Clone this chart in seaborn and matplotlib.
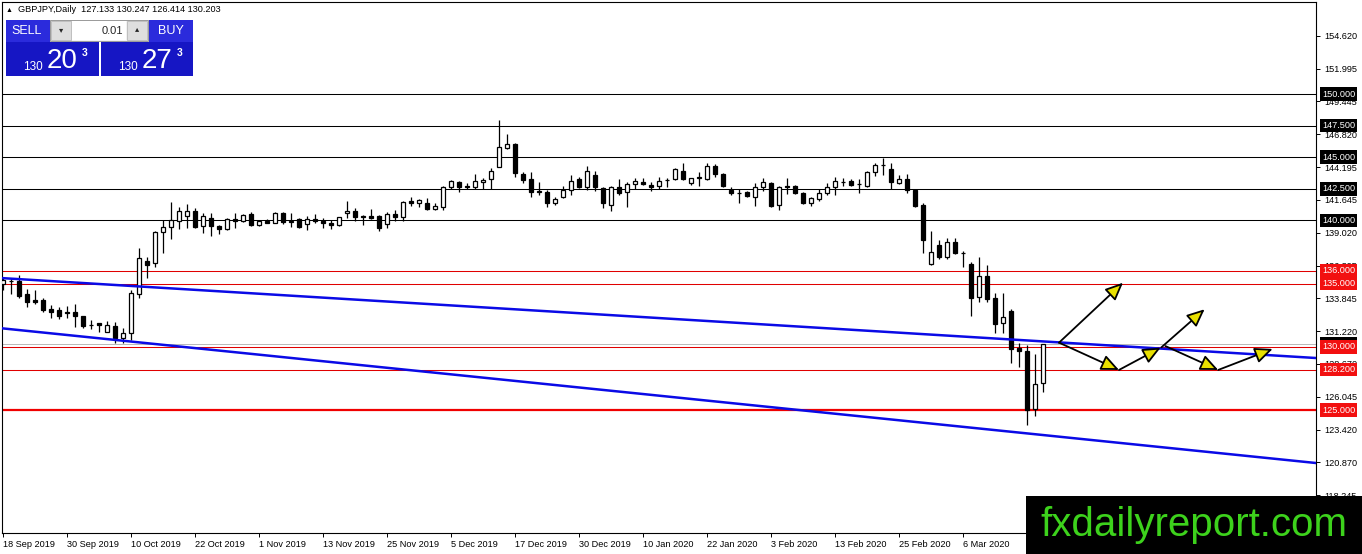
import matplotlib

matplotlib.use("Agg")

import matplotlib.pyplot as plt
import matplotlib.transforms as mtransforms
import numpy as np
import pandas as pd
import seaborn as sns
from matplotlib.patches import Rectangle

W, H = 1362, 554

SYMBOL_INFO = "GBPJPY,Daily  127.133 130.247 126.414 130.203"
LOT = "0.01"
SELL_PRICE = ("130", "20", "3")
BUY_PRICE = ("130", "27", "3")
WATERMARK = "fxdailyreport.com"

DATE_LABELS = [
    "18 Sep 2019", "30 Sep 2019", "10 Oct 2019", "22 Oct 2019", "1 Nov 2019",
    "13 Nov 2019", "25 Nov 2019", "5 Dec 2019", "17 Dec 2019", "30 Dec 2019",
    "10 Jan 2020", "22 Jan 2020", "3 Feb 2020", "13 Feb 2020", "25 Feb 2020",
    "6 Mar 2020",
]

# daily candles, bar 0 = 18 Sep 2019
OPENS = [
    134.95, 135.2, 135.2, 134.2, 133.7, 133.7, 133.0, 132.9, 132.75, 132.75,
    132.4, 131.75, 131.88, 131.17, 131.64, 130.7, 131.1, 134.18, 136.8, 136.6,
    139.08, 139.48, 139.95, 140.35, 140.75, 139.56, 140.19, 139.56, 139.32, 140.11,
    139.95, 140.5, 139.64, 139.95, 139.8, 140.58, 139.9, 140.11, 139.72, 140.11,
    139.95, 139.8, 139.64, 140.58, 140.75, 140.35, 140.35, 140.35, 139.72, 140.5,
    140.27, 141.53, 141.37, 141.37, 140.9, 141.06, 142.64, 143.04, 142.64, 142.64,
    143.04, 143.27, 144.22, 145.73, 146.04, 143.67, 143.27, 142.25, 142.25, 141.37,
    141.85, 142.41, 143.27, 142.64, 143.59, 142.56, 141.22, 142.64, 142.25, 142.88,
    143.04, 142.8, 142.72, 143.2, 143.27, 143.9, 142.96, 143.35, 143.27, 144.3,
    143.67, 142.41, 142.2, 142.25, 141.85, 142.64, 142.96, 141.22, 142.72, 142.72,
    142.17, 141.37, 141.69, 142.17, 142.64, 143.04, 143.12, 142.88, 142.72, 143.83,
    144.38, 144.07, 142.96, 143.27, 142.41, 141.22, 136.55, 138.05, 137.1, 138.29,
    137.42, 136.55, 133.94, 135.6, 133.86, 131.88, 132.83, 129.9, 129.67, 125.08,
    127.133,
]
HIGHS = [
    135.5, 135.45, 135.7, 134.57, 134.5, 133.86, 133.3, 133.15, 133.2, 133.39,
    132.45, 132.1, 131.9, 132.05, 131.96, 131.5, 134.49, 137.8, 137.1, 139.2,
    140.03, 141.45, 141.06, 141.3, 140.98, 140.6, 140.6, 139.6, 140.2, 140.58,
    140.5, 140.67, 140.03, 140.1, 140.67, 140.67, 140.58, 140.2, 140.35, 140.5,
    140.2, 140.03, 140.3, 141.53, 140.98, 140.4, 140.9, 140.43, 140.67, 140.8,
    141.53, 141.85, 141.7, 141.77, 141.37, 142.72, 143.2, 143.12, 142.96, 143.67,
    143.35, 144.15, 147.94, 146.84, 146.12, 143.83, 143.83, 143.04, 142.4, 141.85,
    142.72, 143.59, 143.43, 144.3, 143.9, 142.64, 142.72, 143.27, 143.04, 143.35,
    143.35, 143.04, 143.43, 143.35, 144.15, 144.54, 143.35, 143.83, 144.54, 144.46,
    143.75, 142.64, 142.48, 142.33, 142.96, 143.35, 143.04, 142.72, 143.35, 142.8,
    142.25, 141.85, 142.48, 142.96, 143.43, 143.35, 143.27, 143.27, 143.9, 144.54,
    144.94, 144.54, 143.59, 143.67, 142.48, 141.37, 139.16, 138.45, 138.6, 138.6,
    137.58, 136.7, 137.1, 136.47, 134.26, 134.26, 132.99, 130.3, 130.14, 129.43,
    130.247,
]
LOWS = [
    134.5, 134.2, 133.9, 133.15, 133.4, 132.75, 132.3, 132.2, 132.3, 131.57,
    131.5, 131.4, 131.2, 131.15, 130.3, 130.3, 130.54, 133.86, 135.45, 136.3,
    137.42, 138.53, 139.32, 139.4, 139.4, 139.0, 138.8, 138.9, 139.24, 139.4,
    139.87, 139.56, 139.56, 139.8, 139.8, 139.72, 139.48, 139.4, 139.24, 139.8,
    139.4, 139.32, 139.56, 140.2, 139.95, 139.64, 140.1, 139.16, 139.4, 139.95,
    139.95, 141.14, 141.06, 140.83, 140.83, 140.83, 142.48, 142.25, 142.48, 142.48,
    142.48, 142.48, 144.22, 145.65, 143.43, 142.96, 141.85, 142.0, 141.06, 141.22,
    141.77, 142.01, 142.56, 142.4, 142.33, 140.98, 140.75, 142.0, 141.06, 142.48,
    142.8, 142.33, 142.48, 142.64, 143.2, 143.2, 142.8, 142.72, 143.2, 143.43,
    142.64, 142.0, 141.37, 141.85, 141.14, 142.33, 141.06, 140.83, 142.1, 142.1,
    141.3, 141.14, 141.53, 142.0, 142.0, 142.72, 142.72, 142.17, 142.64, 143.51,
    143.59, 142.48, 142.88, 142.17, 141.06, 137.42, 136.5, 136.94, 136.94, 137.34,
    136.3, 132.44, 133.55, 133.55, 131.1, 131.1, 128.72, 128.4, 123.81, 124.53,
    126.414,
]
CLOSES = [
    135.25, 135.22, 134.0, 133.55, 133.55, 132.9, 132.75, 132.4, 132.67, 132.4,
    131.65, 131.7, 131.75, 131.73, 130.7, 131.1, 134.25, 137.0, 136.47, 139.08,
    139.48, 140.03, 140.75, 140.75, 139.48, 140.35, 139.56, 139.32, 140.11, 139.95,
    140.43, 139.64, 139.95, 139.8, 140.58, 139.87, 139.95, 139.48, 140.11, 139.95,
    139.8, 139.64, 140.27, 140.75, 140.27, 140.27, 140.2, 139.4, 140.5, 140.27,
    141.45, 141.37, 141.61, 140.9, 141.14, 142.64, 143.12, 142.64, 142.7, 143.12,
    143.2, 143.9, 145.8, 146.04, 143.75, 143.2, 142.25, 142.3, 141.37, 141.69,
    142.41, 143.12, 142.64, 143.9, 142.64, 141.37, 142.64, 142.17, 142.88, 143.12,
    142.88, 142.64, 143.12, 143.22, 144.07, 143.27, 143.35, 143.43, 144.3, 143.67,
    142.72, 142.17, 142.17, 141.93, 142.64, 143.04, 141.14, 142.64, 142.64, 142.17,
    141.37, 141.77, 142.17, 142.64, 143.12, 143.04, 142.8, 142.88, 143.83, 144.38,
    144.38, 143.04, 143.27, 142.41, 141.14, 138.45, 137.5, 137.1, 138.29, 137.42,
    137.42, 133.86, 135.6, 133.78, 131.8, 132.36, 129.83, 129.67, 125.0, 127.06,
    130.203,
]

PRICE_TICKS = [
    154.620, 151.995, 149.445, 146.820, 144.195, 141.645, 139.020, 136.395,
    133.845, 131.220, 128.670, 126.045, 123.420, 120.870, 118.245,
]
BLACK_LEVELS = [150.0, 147.5, 145.0, 142.5, 140.0]
RED_LEVELS = [136.0, 135.0, 130.0, 128.2]
MAIN_SUPPORT = 125.0
BID = 130.203

TREND_BARS = [-1, 165]
TREND_UPPER = [135.47, 129.08]
TREND_LOWER = [131.52, 120.75]

ARROW_FROM_BAR = [132.0, 132.0, 139.5, 144.8, 145.3, 151.9]
ARROW_FROM_PRICE = [130.33, 130.33, 128.17, 129.96, 130.06, 128.17]
ARROW_TO_BAR = [140.0, 139.5, 144.7, 150.2, 151.9, 158.7]
ARROW_TO_PRICE = [135.07, 128.17, 129.93, 132.97, 128.17, 129.83]


def fig_box(fig, x, y, w, h, **kw):
    rect = Rectangle((x / W, 1 - (y + h) / H), w / W, h / H,
                     transform=fig.transFigure, zorder=20, **kw)
    fig.add_artist(rect)


def fig_text(fig, x, y, s, **kw):
    kw.setdefault("zorder", 21)
    fig.text(x / W, 1 - y / H, s, **kw)


def draw_trade_panel(fig):
    fig_text(fig, 6, 10, "\u25b2", fontsize=5, va="center", color="black")
    fig_text(fig, 18, 10, SYMBOL_INFO, fontsize=6.6, va="center", color="black")

    fig_box(fig, 6, 20, 44, 22, facecolor="#2b2bdc", edgecolor="none")
    fig_box(fig, 149, 20, 44, 22, facecolor="#2b2bdc", edgecolor="none")
    fig_box(fig, 6, 42, 93, 34, facecolor="#1616c4", edgecolor="none")
    fig_box(fig, 101, 42, 92, 34, facecolor="#1616c4", edgecolor="none")
    fig_box(fig, 10, 41.5, 36, 0.8, facecolor="#7a7af0", edgecolor="none")
    fig_box(fig, 153, 41.5, 36, 0.8, facecolor="#7a7af0", edgecolor="none")

    fig_box(fig, 50, 20, 98, 21, facecolor="#f2f2f2", edgecolor="#9a9a9a", linewidth=0.7)
    fig_box(fig, 51, 21, 20, 19, facecolor="#dedede", edgecolor="#b0b0b0", linewidth=0.5)
    fig_box(fig, 127, 21, 20, 19, facecolor="#dedede", edgecolor="#b0b0b0", linewidth=0.5)
    fig_box(fig, 72, 21, 54, 19, facecolor="white", edgecolor="none")
    fig_text(fig, 61, 31, "\u25be", fontsize=6, ha="center", va="center")
    fig_text(fig, 137, 30, "\u25b4", fontsize=6, ha="center", va="center")
    fig_text(fig, 123, 31, LOT, fontsize=8, ha="right", va="center")

    fig_text(fig, 27, 31, "SELL", fontsize=9, ha="center", va="center", color="white")
    fig_text(fig, 171, 31, "BUY", fontsize=9, ha="center", va="center", color="white")

    for x0, (small, big, sup) in [(23, SELL_PRICE), (118, BUY_PRICE)]:
        fig_text(fig, x0, 70, small, fontsize=8.5, va="baseline", color="white")
        fig_text(fig, x0 + 24, 68, big, fontsize=20, va="baseline", color="white")
        fig_text(fig, x0 + 59, 56, sup, fontsize=7.5, va="baseline", color="white",
                 fontweight="bold")


def main() -> None:
    sns.set_theme(style="white")
    plt.rcParams.update({
        "font.family": ["Liberation Sans", "DejaVu Sans"],
        "axes.edgecolor": "black",
        "axes.linewidth": 0.8,
        "xtick.color": "black",
        "ytick.color": "black",
    })

    ohlc = pd.DataFrame({"open": OPENS, "high": HIGHS, "low": LOWS, "close": CLOSES})
    ohlc["bar"] = np.arange(len(ohlc))
    rising = ohlc["close"] >= ohlc["open"]
    body_low = ohlc[["open", "close"]].min(axis=1)
    body_h = (ohlc["close"] - ohlc["open"]).abs().clip(lower=0.02)

    fig = plt.figure(figsize=(W / 100, H / 100), dpi=100)
    ax = fig.add_axes([2 / W, 21 / H, 1314 / W, 531 / H])
    ax.set_facecolor("white")

    for lvl in BLACK_LEVELS:
        ax.axhline(lvl, color="black", lw=0.75, zorder=1)
    for lvl in RED_LEVELS:
        ax.axhline(lvl, color="#e00000", lw=0.75, zorder=1)
    ax.axhline(MAIN_SUPPORT, color="#f00000", lw=1.6, zorder=1)
    ax.axhline(BID, color="#b8b8b8", lw=0.7, zorder=1)

    ax.vlines(ohlc["bar"], ohlc["low"], ohlc["high"], color="black", lw=0.9, zorder=3)
    ax.bar(ohlc["bar"], body_h, bottom=body_low, width=0.58,
           color=np.where(rising, "white", "black"), edgecolor="black",
           linewidth=0.9, zorder=4)

    sns.lineplot(x=TREND_BARS, y=TREND_UPPER, color="#0a0ae6", lw=1.8, ax=ax, zorder=5)
    sns.lineplot(x=TREND_BARS, y=TREND_LOWER, color="#0a0ae6", lw=1.8, ax=ax, zorder=5)

    for x0, y0, x1, y1 in zip(ARROW_FROM_BAR, ARROW_FROM_PRICE, ARROW_TO_BAR, ARROW_TO_PRICE):
        ax.annotate(
            "", xy=(x1, y1), xytext=(x0, y0),
            arrowprops=dict(arrowstyle="-|>,head_length=0.9,head_width=0.4",
                            fc="#e8e000", ec="black", lw=1.3,
                            shrinkA=0, shrinkB=0, mutation_scale=12),
            zorder=6,
        )

    ax.set_xlim(-0.125, 164.125)
    ax.set_ylim(115.27, 157.28)

    ax.yaxis.tick_right()
    ax.set_yticks(PRICE_TICKS)
    ax.set_yticklabels([f"{v:.3f}" for v in PRICE_TICKS])
    ax.tick_params(axis="y", direction="out", length=3, width=0.7, pad=3, labelsize=6.6)

    ax.set_xticks(np.arange(0, 8 * len(DATE_LABELS), 8))
    ax.set_xticklabels(DATE_LABELS, ha="left")
    ax.tick_params(axis="x", direction="out", length=3, width=0.7, pad=2, labelsize=6.6)
    ax.tick_params(bottom=True, right=True, left=False, top=False)
    ax.set_xlabel("")
    ax.set_ylabel("")
    ax.grid(False)
    for side in ["top", "bottom", "left", "right"]:
        ax.spines[side].set_visible(True)
        ax.spines[side].set_color("black")

    blend = mtransforms.blended_transform_factory(ax.transAxes, ax.transData)
    box_x = 1.0045
    box_style = "square,pad=0.25"
    ax.text(box_x, BID, f"{BID:.3f}", transform=blend, ha="left", va="center",
            color="white", fontsize=6.6, clip_on=False, zorder=9,
            bbox=dict(boxstyle=box_style, fc="black", ec="none"))
    for lvl in BLACK_LEVELS:
        ax.text(box_x, lvl, f"{lvl:.3f}", transform=blend, ha="left", va="center",
                color="white", fontsize=6.6, clip_on=False, zorder=10,
                bbox=dict(boxstyle=box_style, fc="black", ec="none"))
    for lvl in RED_LEVELS + [MAIN_SUPPORT]:
        ax.text(box_x, lvl, f"{lvl:.3f}", transform=blend, ha="left", va="center",
                color="white", fontsize=6.6, clip_on=False, zorder=10,
                bbox=dict(boxstyle=box_style, fc="#f21010", ec="none"))

    draw_trade_panel(fig)

    fig_box(fig, 1026, 496, 336, 58, facecolor="black", edgecolor="none")
    fig_text(fig, 1194, 536, WATERMARK, fontsize=29, ha="center", va="baseline",
             color="#3dd21c")

    fig.savefig("out.png", dpi=100, facecolor="white")
    plt.close(fig)


if __name__ == "__main__":
    main()
